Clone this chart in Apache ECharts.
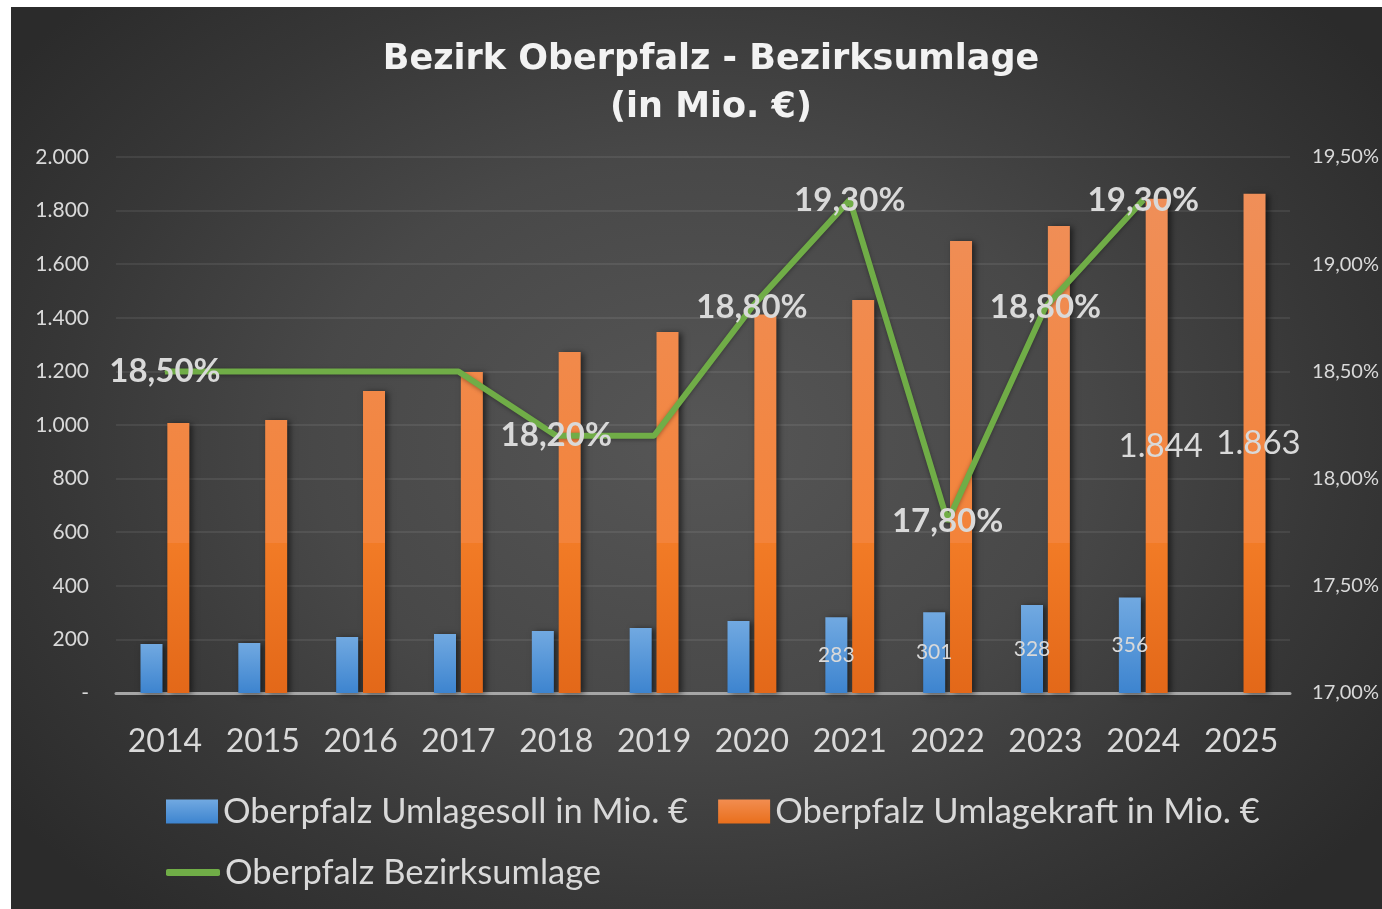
<!DOCTYPE html>
<html>
<head>
<meta charset="utf-8">
<script src="https://cdn.jsdelivr.net/npm/echarts@6/dist/echarts.min.js"></script>
<style>
  html, body { margin: 0; padding: 0; background: #ffffff; }
  #chart {
    position: absolute; left: 11px; top: 7px; width: 1371px; height: 902px;
    background: radial-gradient(ellipse 62% 70% at 50% 48%, #565656 0%, #484848 45%, #373737 75%, #2b2b2b 100%);
  }
</style>
</head>
<body>
<div id="chart"></div>
<script>
// Jahre (Kategorien)
const years = ['2014', '2015', '2016', '2017', '2018', '2019', '2020', '2021', '2022', '2023', '2024', '2025'];
// Umlagesoll in Mio. €
const umlagesoll = [183, 187, 209, 220, 231, 243, 269, 283, 301, 328, 356, null];
// Umlagekraft in Mio. €
const umlagekraft = [1007, 1019, 1127, 1198, 1272, 1347, 1412, 1466, 1687, 1743, 1844, 1863];
// Hebesatz der Bezirksumlage in %
const bezirksumlage = [18.5, 18.5, 18.5, 18.5, 18.2, 18.2, 18.8, 19.3, 17.8, 18.8, 19.3, null];
// Jahre, deren Werte beschriftet sind
const sollLabelYears = ['2021', '2022', '2023', '2024'];
const kraftLabelYears = ['2024', '2025'];
const umlageLabelYears = ['2014', '2018', '2020', '2021', '2022', '2023', '2024'];

const TEXT = '#d9d9d9';
const FONT = 'Lato';

const fmtThousands = v => String(Math.round(v)).replace(/\B(?=(\d{3})+(?!\d))/g, '.');
const fmtPct = v => v.toFixed(2).replace('.', ',') + '%';

const chart = echarts.init(document.getElementById('chart'), null, { renderer: 'canvas' });

const blueFill = new echarts.graphic.LinearGradient(0, 0, 0, 1, [
  { offset: 0, color: '#71a9e1' },
  { offset: 1, color: '#3d84cf' }
]);
// orange fill spans the whole plot height
const orangeFill = new echarts.graphic.LinearGradient(0, 150, 0, 686, [
  { offset: 0, color: '#ef905c' },
  { offset: 0.72, color: '#f3833a' },
  { offset: 0.72, color: '#f27b26' },
  { offset: 1, color: '#e36819' }
], true);
// legend swatch for the orange series
const orangeSwatch = new echarts.graphic.LinearGradient(0, 0, 0, 1, [
  { offset: 0, color: '#f28d50' },
  { offset: 1, color: '#e96f1c' }
]);

const barShadow = { shadowColor: 'rgba(0,0,0,0.55)', shadowBlur: 6, shadowOffsetX: 3, shadowOffsetY: 1 };

chart.setOption({
  backgroundColor: 'transparent',
  animation: false,
  title: {
    text: 'Bezirk Oberpfalz - Bezirksumlage\n(in Mio. €)',
    left: 695, top: 24, textAlign: 'center',
    textStyle: {
      color: '#f2f2f2', fontFamily: 'DejaVu Sans', fontWeight: 'bold',
      fontSize: 35, lineHeight: 48, align: 'center'
    }
  },
  legend: [
    {
      data: [
        { name: 'Oberpfalz Umlagesoll in Mio. €', itemStyle: { color: blueFill } },
        { name: 'Oberpfalz Umlagekraft in Mio. €', itemStyle: { color: orangeSwatch } }
      ],
      left: 150, top: 782, orient: 'horizontal',
      itemWidth: 52, itemHeight: 24, itemGap: 30, icon: 'rect',
      textStyle: { color: TEXT, fontFamily: FONT, fontSize: 34.5 }
    },
    {
      data: ['Oberpfalz Bezirksumlage'],
      left: 150, top: 843,
      itemWidth: 54, itemHeight: 7, icon: 'roundRect',
      textStyle: { color: TEXT, fontFamily: FONT, fontSize: 34.5 }
    }
  ],
  grid: { left: 105, right: 90, top: 150, bottom: 216, containLabel: false },
  xAxis: {
    type: 'category', data: years,
    axisLine: { show: true, lineStyle: { color: '#a6a6a6', width: 3 } },
    axisTick: { show: false },
    axisLabel: { color: TEXT, fontFamily: FONT, fontSize: 32, margin: 33, interval: 0 }
  },
  yAxis: [
    {
      type: 'value', min: 0, max: 2000, interval: 200,
      axisLine: { show: false }, axisTick: { show: false },
      splitLine: { lineStyle: { color: 'rgba(255,255,255,0.1)', width: 1.5 } },
      axisLabel: {
        color: TEXT, fontFamily: FONT, fontSize: 21, margin: 27,
        formatter: v => v === 0 ? '-' : fmtThousands(v)
      }
    },
    {
      type: 'value', min: 17, max: 19.5, interval: 0.5,
      axisLine: { show: false }, axisTick: { show: false },
      splitLine: { show: false },
      axisLabel: { color: TEXT, fontFamily: FONT, fontSize: 20, margin: 22, formatter: v => fmtPct(v) }
    }
  ],
  series: [
    {
      name: 'Oberpfalz Umlagesoll in Mio. €', type: 'bar', yAxisIndex: 0,
      barWidth: 22, barGap: '22%',
      itemStyle: Object.assign({ color: blueFill }, barShadow),
      data: umlagesoll.map((v, i) => ({
        value: v,
        label: { show: sollLabelYears.includes(years[i]) }
      })),
      label: {
        position: 'inside', color: TEXT, fontFamily: FONT, fontSize: 21,
        formatter: p => fmtThousands(p.value)
      },
      z: 2
    },
    {
      name: 'Oberpfalz Umlagekraft in Mio. €', type: 'bar', yAxisIndex: 0,
      barWidth: 22,
      itemStyle: Object.assign({ color: orangeFill }, barShadow),
      data: umlagekraft.map((v, i) => ({
        value: v,
        label: { show: kraftLabelYears.includes(years[i]) }
      })),
      label: {
        position: 'inside', color: TEXT, fontFamily: FONT, fontSize: 33, offset: [4, 0],
        formatter: p => fmtThousands(p.value)
      },
      z: 2
    },
    {
      name: 'Oberpfalz Bezirksumlage', type: 'line', yAxisIndex: 1,
      symbol: 'circle', symbolSize: 1, showSymbol: true,
      itemStyle: { color: '#70ad47' },
      lineStyle: { color: '#70ad47', width: 6, shadowColor: 'rgba(0,0,0,0.35)', shadowBlur: 4, shadowOffsetY: 1 },
      data: bezirksumlage.map((v, i) => ({
        value: v,
        label: { show: umlageLabelYears.includes(years[i]) }
      })),
      label: {
        position: 'inside', color: TEXT, fontFamily: FONT, fontWeight: 'bold', fontSize: 33,
        formatter: p => fmtPct(p.value)
      },
      z: 5
    }
  ]
});
</script>
</body>
</html>
